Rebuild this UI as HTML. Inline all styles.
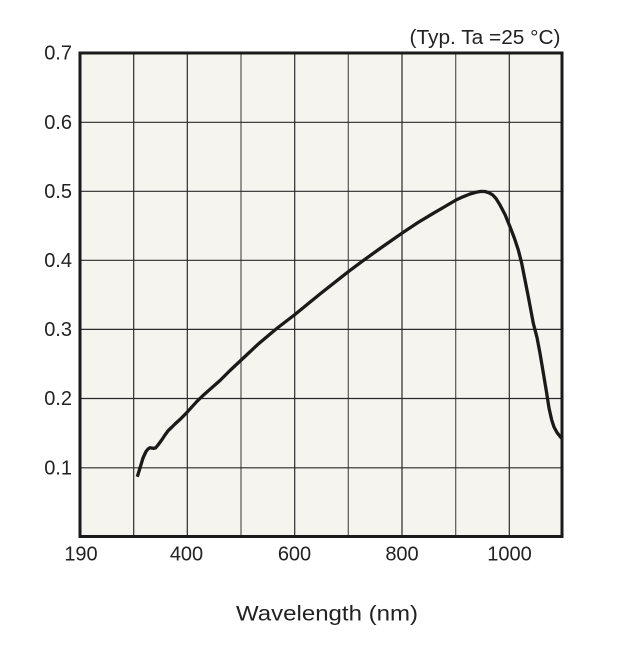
<!DOCTYPE html>
<html><head><meta charset="utf-8"><style>
html,body{margin:0;padding:0;background:#fff;}
svg{display:block;}
text{font-family:"Liberation Sans","DejaVu Sans",sans-serif;fill:#222;}
</style></head><body>
<svg width="626" height="646" viewBox="0 0 626 646" xmlns="http://www.w3.org/2000/svg">
<rect x="80" y="53" width="482" height="483.5" fill="#f5f4ef"/>
<g stroke="#2a2a2a" stroke-width="1.2" fill="none">
<line x1="133.7" y1="53" x2="133.7" y2="536.5"/>
<line x1="187.3" y1="53" x2="187.3" y2="536.5"/>
<line x1="241" y1="53" x2="241" y2="536.5" stroke="#555"/>
<line x1="294.7" y1="53" x2="294.7" y2="536.5"/>
<line x1="348.3" y1="53" x2="348.3" y2="536.5" stroke="#555"/>
<line x1="402" y1="53" x2="402" y2="536.5"/>
<line x1="455.7" y1="53" x2="455.7" y2="536.5" stroke="#555"/>
<line x1="509.3" y1="53" x2="509.3" y2="536.5"/>
<line x1="80" y1="122.3" x2="562" y2="122.3"/>
<line x1="80" y1="191.3" x2="562" y2="191.3"/>
<line x1="80" y1="260.3" x2="562" y2="260.3"/>
<line x1="80" y1="329.4" x2="562" y2="329.4"/>
<line x1="80" y1="398.5" x2="562" y2="398.5"/>
<line x1="80" y1="467.8" x2="562" y2="467.8"/>
</g>
<rect x="80" y="53" width="482" height="483.5" fill="none" stroke="#1a1a1a" stroke-width="3"/>
<polyline fill="none" stroke="#1c1a18" stroke-width="3.3" stroke-linejoin="round" stroke-linecap="butt"
points="137.3,476.7 140,468 143,458 146,451.5 148,449 150,447.7 153,448.3 155.5,448 158,445 161.7,440 165,435 168.3,430.5 172,427 175,424 181,418.5 186.7,412.7 192,406.8 197,401.3 203,395.5 210,389.3 220,380.5 230,370.5 240.7,360.5 258,344.3 276.7,328.5 294.3,315 320,294 348.3,271.7 361.7,261.7 380,248.5 402.7,232.7 418,222.5 433.3,213.3 445,206.5 456,200 463,196.8 470,194 476,192.3 481,191.4 485,191.5 489,192.8 492.5,194.8 496,198.5 500,205 505,214.5 510,226.7 514.5,238.5 518.3,250 521.7,263.3 525,280 528.3,296.7 531,311 533.3,323.3 537,337.5 540,353.3 543.5,374 546.7,393.3 549,408 551.7,420 554,427 557,432.5 561.5,438.3"/>
<g font-size="20" text-anchor="end">
<text x="72" y="59.5">0.7</text>
<text x="72" y="128.8">0.6</text>
<text x="72" y="197.9">0.5</text>
<text x="72" y="266.9">0.4</text>
<text x="72" y="336">0.3</text>
<text x="72" y="405.1">0.2</text>
<text x="72" y="474.4">0.1</text>
</g>
<g font-size="20" text-anchor="middle">
<text x="81" y="560.5">190</text>
<text x="186.5" y="560.5">400</text>
<text x="294.5" y="560.5">600</text>
<text x="402" y="560.5">800</text>
<text x="509.5" y="560.5">1000</text>
</g>
<text x="409.5" y="44" font-size="20" textLength="151" lengthAdjust="spacingAndGlyphs">(Typ. Ta =25 °C)</text>
<text x="236" y="620.5" font-size="21.5" textLength="182" lengthAdjust="spacingAndGlyphs">Wavelength (nm)</text>
</svg>
</body></html>
